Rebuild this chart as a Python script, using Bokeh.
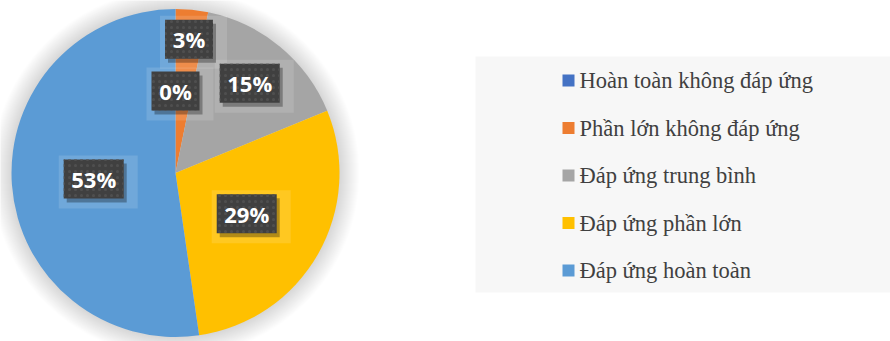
import numpy as np
from bokeh.plotting import figure
from bokeh.models import Range1d
from bokeh.core.properties import value
from bokeh.embed import file_html
from bokeh.resources import INLINE

# ---- data ----
categories = ["Hoàn toàn không đáp ứng", "Phần lớn không đáp ứng",
              "Đáp ứng trung bình", "Đáp ứng phần lớn", "Đáp ứng hoàn toàn"]
shares = [0.0, 3.2, 15.6, 28.9, 52.3]
pct_labels = ["0%", "3%", "15%", "29%", "53%"]

# ---- style ----
colors = ["#4472C4", "#ED7D31", "#A5A5A5", "#FFC000", "#5B9BD5"]
label_radius_frac = [0.5, 0.82, 0.71, 0.5, 0.5]

W, H = 890, 341
p = figure(width=W, height=H, x_range=Range1d(0, W), y_range=Range1d(0, H),
           output_backend="svg", toolbar_location=None, x_axis_type=None, y_axis_type=None,
           min_border=0, outline_line_color=None)
p.grid.visible = False
p.background_fill_color = "white"
p.border_fill_color = "white"

cx, cy, R = 175.0, H - 172.5, 164.0

# soft glow around pie
n_glow = 20
p.circle(x=[cx] * n_glow, y=[cy] * n_glow, radius=[R + i for i in range(1, n_glow + 1)],
         fill_color="black", fill_alpha=0.007, line_color=None)

vals = np.array(shares, dtype=float)
cum = np.concatenate([[0.0], np.cumsum(vals)]) / vals.sum()
starts = np.pi / 2 - 2 * np.pi * cum[:-1]
ends = np.pi / 2 - 2 * np.pi * cum[1:]
keep = vals > 0
p.wedge(x=cx, y=cy, radius=R, start_angle=starts[keep], end_angle=ends[keep], direction="clock",
        fill_color=[c for c, k in zip(colors, keep) if k], line_color=None)

# data labels
mid = 2 * np.pi * (cum[:-1] + cum[1:]) / 2
lx = cx + np.array(label_radius_frac) * R * np.sin(mid)
ly = cy + np.array(label_radius_frac) * R * np.cos(mid)
bw = np.array([24 + 12 * len(t) for t in pct_labels], dtype=float)
bh = 39.0
# light halo
p.rect(x=lx + 4.5, y=ly - 3, width=bw + 19, height=bh + 14, fill_color="white", fill_alpha=0.13, line_color=None)
# shadow
p.rect(x=lx + 3, y=ly - 4, width=bw, height=bh, fill_color="black", fill_alpha=0.3, line_color=None)
# box
p.rect(x=lx, y=ly, width=bw, height=bh, fill_color="#404040", line_color=None,
       hatch_pattern=".", hatch_scale=6, hatch_color="#4f4f4f", hatch_weight=1)
p.text(x=lx, y=ly, text=pct_labels, text_font=value("Open Sans"), text_font_style="bold",
       text_font_size="22px", text_color="white", text_align="center", text_baseline="middle")

# legend
leg_left, leg_right, leg_top, leg_bottom = 475, 890, 56, 292
p.rect(x=(leg_left + leg_right) / 2, y=H - (leg_top + leg_bottom) / 2,
       width=leg_right - leg_left, height=leg_bottom - leg_top, fill_color="#F7F7F7", line_color=None)
leg_y0, leg_dy = 80.0, 47.5
ly_leg = np.array([H - (leg_y0 + i * leg_dy) for i in range(len(categories))])
p.rect(x=[568] * len(categories), y=ly_leg, width=12, height=12, fill_color=colors, line_color=None)
p.text(x=[579] * len(categories), y=ly_leg, text=categories, text_font=value("Liberation Serif"),
       text_font_size="22.5px", text_color="#404040", text_align="left", text_baseline="middle")

open("out.html", "w").write(file_html(p, INLINE))
